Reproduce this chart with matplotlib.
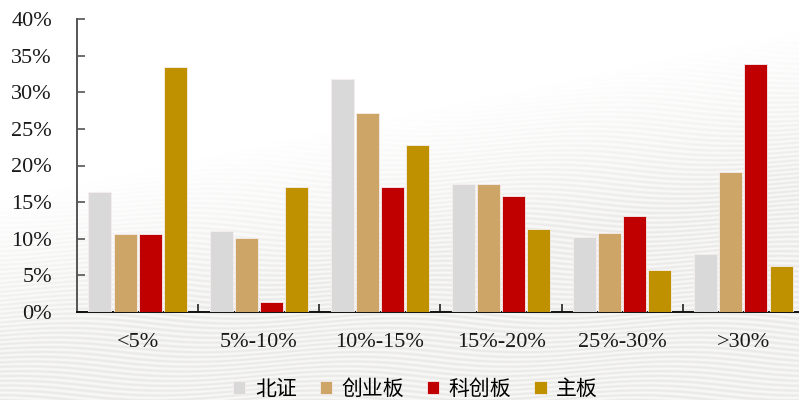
import numpy as np
import matplotlib
matplotlib.use("Agg")
import matplotlib.pyplot as plt
from matplotlib.ticker import FixedLocator, PercentFormatter

# Return-range buckets and share of companies per board
categories = ["<5%", "5%-10%", "10%-15%", "15%-20%", "25%-30%", ">30%"]
series_names = ["北证", "创业板", "科创板", "主板"]
bz = [16.4, 11.1, 31.8, 17.5, 10.2, 7.9]
cyb = [10.7, 10.1, 27.2, 17.5, 10.8, 19.1]
kcb = [10.6, 1.3, 17.1, 15.8, 13.1, 33.9]
zb = [33.4, 17.1, 22.8, 11.3, 5.7, 6.3]
series_values = [bz, cyb, kcb, zb]
colors = ["#D9D9D9", "#CDA566", "#C00000", "#BF9000"]

W, H = 799, 400
fig = plt.figure(figsize=(W / 100, H / 100), dpi=100)

# Decorative wavy-stripe backdrop
bg = fig.add_axes([0, 0, 1, 1], zorder=0)
yy, xx = np.mgrid[0:H, 0:W].astype(float)
phase = (yy + 5 * np.sin(2 * np.pi * xx / 320 + yy / 50)) / 4.8
stripe = 0.5 + 0.5 * np.sin(2 * np.pi * phase)
yb = 200 - 170 * (xx / W)
mask = np.clip((yy - yb) / 150, 0, 1) ** 0.9
shade = mask * (0.025 + 0.055 * stripe)
img = np.stack([1 - shade, 1 - shade * 1.03, 1 - shade * 1.12], axis=-1)
bg.imshow(np.clip(img, 0, 1), aspect="auto", extent=[0, 1, 0, 1], origin="upper")
bg.set_axis_off()

ax = fig.add_axes([77 / W, 1 - 312 / H, (804 - 77) / W, (312 - 19) / H], zorder=1)
ax.set_facecolor("none")

x = np.arange(len(categories))
step = 0.207
width = 0.19
for i, (name, vals, c) in enumerate(zip(series_names, series_values, colors)):
    ax.bar(x + (i - 1.5) * step, vals, width=width, color=c, label=name,
           edgecolor="#F6EEEE", linewidth=0.6, zorder=3)

ax.set_xlim(-0.5, len(categories) - 0.5)
ax.set_ylim(0, 40)
ax.yaxis.set_major_locator(FixedLocator(np.arange(0, 41, 5)))
ax.yaxis.set_major_formatter(PercentFormatter(decimals=0))
ax.set_xticks(x)
ax.set_xticklabels(categories)
ax.xaxis.set_minor_locator(FixedLocator(np.arange(0.5, len(categories) - 0.5, 1)))

serif = "Liberation Serif"
for lab in ax.get_xticklabels() + ax.get_yticklabels():
    lab.set_fontfamily(serif)
    lab.set_fontsize(16)
    lab.set_color("#1a1a1a")

ax.tick_params(axis="x", which="major", length=0, pad=15)
ax.tick_params(axis="x", which="minor", direction="in", length=6, width=1.2, color="#222222")
ax.tick_params(axis="y", direction="in", length=6, width=1.2, color="#555555", pad=18)

for s in ["top", "right"]:
    ax.spines[s].set_visible(False)
ax.spines["left"].set_color("#555555")
ax.spines["left"].set_linewidth(1.4)
ax.spines["bottom"].set_color("#111111")
ax.spines["bottom"].set_linewidth(1.4)

handles, labels = ax.get_legend_handles_labels()
fig.legend(handles, labels, loc="center", bbox_to_anchor=(0.52, 0.028), ncol=4,
           frameon=False, handlelength=0.6, handleheight=0.6, handletextpad=0.45,
           columnspacing=1.1, borderpad=0.1,
           prop={"family": ["Noto Sans CJK SC", "DejaVu Sans"], "size": 15})

fig.savefig("out.png", dpi=100)
